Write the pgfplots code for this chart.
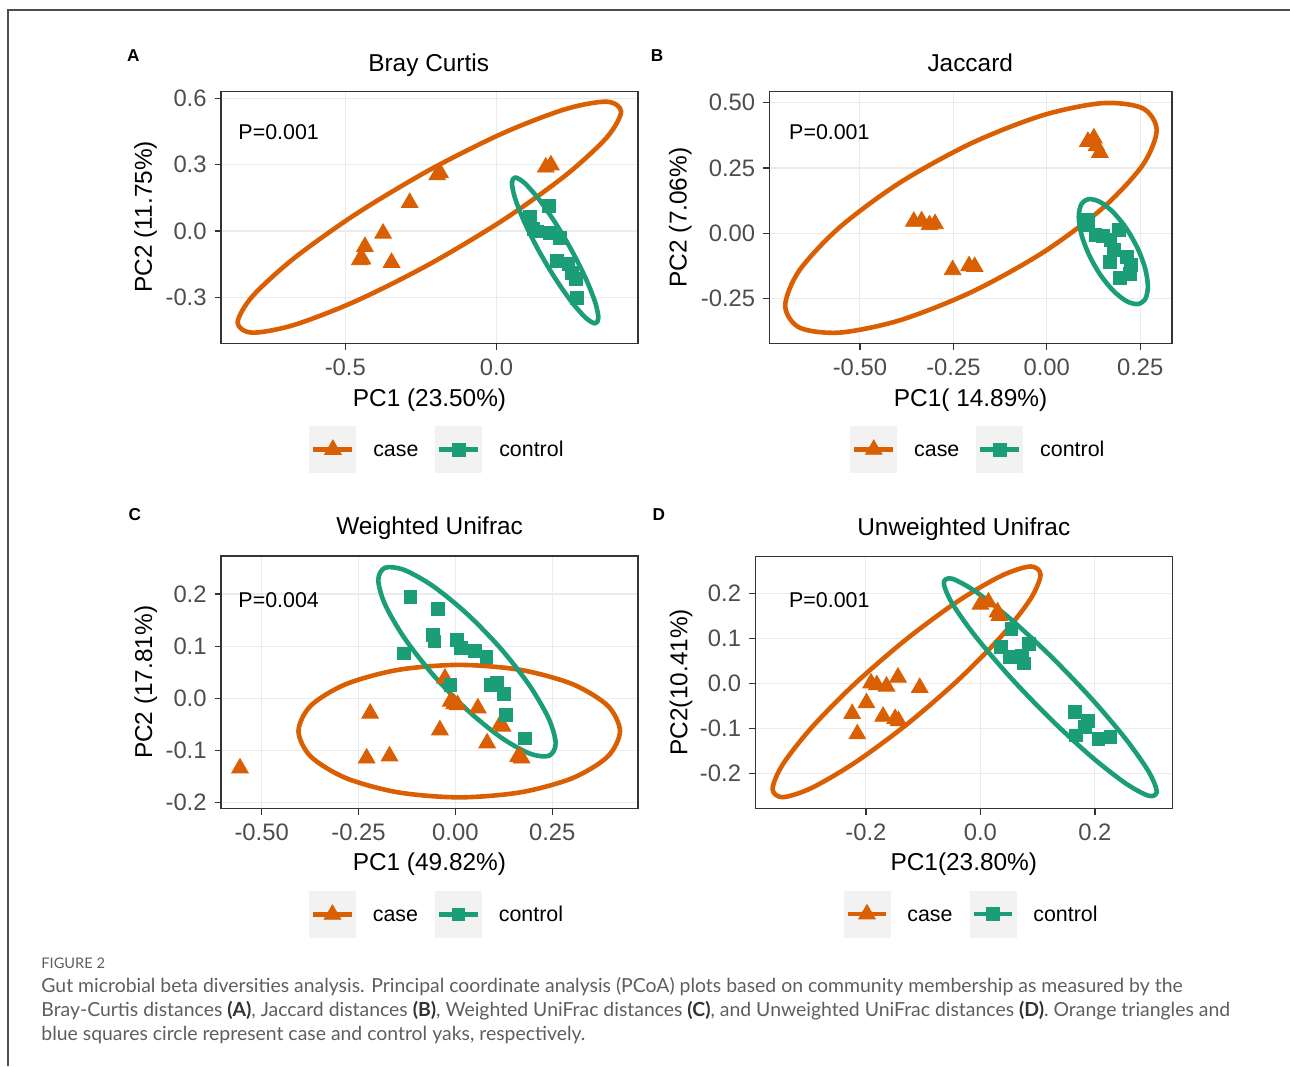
\documentclass[border=0pt]{standalone}
\usepackage{fontspec}
\setmainfont{Liberation Sans}
\newfontfamily\capfont{Lato}
\usepackage{pgfplots}
\pgfplotsset{compat=1.18}

\definecolor{caseC}{HTML}{D95F02}
\definecolor{ctrlC}{HTML}{1B9E77}
\definecolor{frameC}{HTML}{333333}
\definecolor{gridC}{HTML}{EBEBEB}
\definecolor{tickC}{HTML}{4D4D4D}
\definecolor{keybg}{HTML}{F2F2F2}
\definecolor{capC}{HTML}{5E5E5E}
\definecolor{capB}{HTML}{333333}

\pgfplotsset{
  pcoa/.style={
    scale only axis, anchor=south west,
    axis line style={draw=frameC, line width=0.7pt},
    grid=major, grid style={draw=gridC, line width=0.55pt},
    tick style={draw=frameC, line width=0.6pt},
    major tick length=3.2pt, tick align=outside, tick pos=left,
    tick label style={font=\fontsize{11.9}{14}\selectfont, text=tickC, inner sep=0pt},
    xticklabel style={anchor=north, yshift=-4.2pt},
    yticklabel style={anchor=east, xshift=-3.8pt},
    label style={font=\fontsize{12.2}{14}\selectfont, text=black},
    xlabel style={anchor=base}, ylabel style={anchor=base},
    every axis title shift=0pt,
    title style={font=\fontsize{12.2}{14}\selectfont, anchor=base},
    legend columns=2,
    legend style={anchor=center, draw=none, fill=none, inner sep=0pt, outer sep=0pt,
      /tikz/column sep=8.5pt,
      nodes={inner sep=0pt, text height=7.2pt, text depth=0pt,
             font=\fontsize{10.7}{12}\selectfont}},
  },
  casepts/.style={only marks, mark=triangle*, mark size=4.8pt, color=caseC,
    mark options={draw=none, fill=caseC},
    legend image code/.code={
      \fill[keybg] (0pt,-11.5pt) rectangle (23pt,11.5pt);
      \draw[caseC, line width=2.3pt] (1.8pt,0pt) -- (21.2pt,0pt);
      \draw[caseC, mark=triangle*, mark size=4.8pt, mark options={draw=none, fill=caseC}]
        plot coordinates {(11.5pt,0pt)};}},
  ctrlpts/.style={only marks, mark=square*, mark size=3.2pt, color=ctrlC,
    mark options={draw=none, fill=ctrlC},
    legend image code/.code={
      \fill[keybg] (0pt,-11.5pt) rectangle (23pt,11.5pt);
      \draw[ctrlC, line width=2.3pt] (1.8pt,0pt) -- (21.2pt,0pt);
      \draw[ctrlC, mark=square*, mark size=3.2pt, mark options={draw=none, fill=ctrlC}]
        plot coordinates {(11.5pt,0pt)};}},
  caseell/.style={caseC, line width=2.3pt, smooth cycle, mark=none, forget plot, line join=round},
  ctrlell/.style={ctrlC, line width=2.3pt, smooth cycle, mark=none, forget plot, line join=round},
}

\begin{document}
\begin{tikzpicture}
\useasboundingbox (0pt,0pt) rectangle (645pt,533pt);
\draw[draw=tickC, line width=0.9pt] (4pt,0pt) -- (4pt,528pt) -- (645pt,528pt);

% A
\begin{axis}[pcoa,
  at={(110.5pt,361.35pt)}, width=208.5pt, height=125.8pt,
  xmin=-0.911, xmax=0.468, ymin=-0.508, ymax=0.630,
  xtick={-0.5,0}, xticklabels={-0.5,0.0},
  ytick={-0.3,0,0.3,0.6}, yticklabels={-0.3,0.0,0.3,0.6},
  title={Bray Curtis}, title style={at={(axis description cs:0.498,1.0809)}},
  xlabel={PC1 (23.50\%)}, xlabel style={at={(axis description cs:0.5,-0.2498)}},
  ylabel={PC2 (11.75\%)}, ylabel style={at={(axis description cs:-0.1655,0.503)}},
  legend style={at={(0.5168,-0.4223)}},
]
\addplot[casepts] coordinates {(0.163,0.288) (0.180,0.298) (-0.196,0.253) (-0.187,0.264)
  (-0.287,0.128) (-0.375,-0.011) (-0.435,-0.071) (-0.452,-0.131) (-0.443,-0.128) (-0.347,-0.143)};
\addplot[ctrlpts] coordinates {(0.111,0.065) (0.172,0.112) (0.122,0.010) (0.135,-0.002)
  (0.177,-0.008) (0.210,-0.033) (0.199,-0.135) (0.238,-0.150) (0.250,-0.190) (0.262,-0.215) (0.265,-0.304)};
\addplot[caseell] coordinates {(0.412,0.5395) (0.3638,0.5848) (0.2262,0.5503) (0.0208,0.442)
  (-0.222,0.2755) (-0.4648,0.0766) (-0.6702,-0.1241) (-0.8078,-0.2966) (-0.856,-0.4145)
  (-0.8078,-0.4598) (-0.6702,-0.4253) (-0.4648,-0.317) (-0.222,-0.1505) (0.0208,0.0484)
  (0.2262,0.2491) (0.3638,0.4216)};
\addplot[ctrlell] coordinates {(0.337,-0.393) (0.3261,-0.3215) (0.2951,-0.2145) (0.2488,-0.0884)
  (0.194,0.038) (0.1392,0.1452) (0.0929,0.2167) (0.0619,0.2421) (0.051,0.217) (0.0619,0.1455)
  (0.0929,0.0385) (0.1392,-0.0876) (0.194,-0.214) (0.2488,-0.3212) (0.2951,-0.3927) (0.3261,-0.4181)};
\node[anchor=base west, inner sep=0pt, font=\fontsize{10.7}{12}\selectfont] at (rel axis cs:0.041,0.8115) {P=0.001};
\legend{case,control}
\end{axis}

% B
\begin{axis}[pcoa,
  at={(384.75pt,361.35pt)}, width=201.25pt, height=125.8pt,
  xmin=-0.742, xmax=0.335, ymin=-0.421, ymax=0.542,
  xtick={-0.5,-0.25,0,0.25}, xticklabels={-0.50,-0.25,0.00,0.25},
  ytick={-0.25,0,0.25,0.5}, yticklabels={-0.25,0.00,0.25,0.50},
  title={Jaccard}, title style={at={(axis description cs:0.4987,1.0809)}},
  xlabel={PC1( 14.89\%)}, xlabel style={at={(axis description cs:0.4996,-0.2498)}},
  ylabel={PC2 (7.06\%)}, ylabel style={at={(axis description cs:-0.2062,0.500)}},
  legend style={at={(0.5165,-0.4223)}},
]
\addplot[casepts] coordinates {(0.110,0.351) (0.126,0.364) (0.133,0.334) (0.142,0.309)
  (-0.356,0.045) (-0.335,0.047) (-0.314,0.032) (-0.299,0.036) (-0.252,-0.140) (-0.208,-0.125) (-0.193,-0.128)};
\addplot[ctrlpts] coordinates {(0.111,0.050) (0.111,0.030) (0.130,-0.005) (0.150,-0.010)
  (0.192,0.012) (0.170,-0.026) (0.179,-0.064) (0.168,-0.110) (0.214,-0.090) (0.226,-0.120)
  (0.222,-0.155) (0.195,-0.172)};
\addplot[caseell] coordinates {(0.294,0.395) (0.2562,0.4787) (0.1484,0.4981) (-0.0126,0.451)
  (-0.203,0.344) (-0.3934,0.1936) (-0.5544,0.0229) (-0.6622,-0.1423) (-0.700,-0.277)
  (-0.6622,-0.3607) (-0.5544,-0.3801) (-0.3934,-0.333) (-0.203,-0.226) (-0.0126,-0.0756)
  (0.1484,0.0951) (0.2562,0.2603)};
\addplot[ctrlell] coordinates {(0.2705,-0.204) (0.2635,-0.1363) (0.2434,-0.0586) (0.2134,0.0173)
  (0.178,0.080) (0.1426,0.1199) (0.1126,0.1308) (0.0925,0.1113) (0.0855,0.064) (0.0925,-0.0037)
  (0.1126,-0.0814) (0.1426,-0.1573) (0.178,-0.220) (0.2134,-0.2599) (0.2434,-0.2708) (0.2635,-0.2513)};
\node[anchor=base west, inner sep=0pt, font=\fontsize{10.7}{12}\selectfont] at (rel axis cs:0.048,0.8115) {P=0.001};
\legend{case,control}
\end{axis}

% C
\begin{axis}[pcoa,
  at={(110.5pt,128.85pt)}, width=208.4pt, height=126.2pt,
  xmin=-0.605, xmax=0.471, ymin=-0.211, ymax=0.273,
  xtick={-0.5,-0.25,0,0.25}, xticklabels={-0.50,-0.25,0.00,0.25},
  ytick={-0.2,-0.1,0,0.1,0.2}, yticklabels={-0.2,-0.1,0.0,0.1,0.2},
  title={Weighted Unifrac}, title style={at={(axis description cs:0.5005,1.0833)}},
  xlabel={PC1 (49.82\%)}, xlabel style={at={(axis description cs:0.5,-0.246)}},
  ylabel={PC2 (17.81\%)}, ylabel style={at={(axis description cs:-0.1655,0.499)}},
  legend style={at={(0.516,-0.4206)}},
]
\addplot[casepts] coordinates {(-0.556,-0.134) (-0.220,-0.029) (-0.229,-0.115) (-0.170,-0.111)
  (-0.040,-0.061) (-0.027,0.038) (-0.012,-0.006) (-0.003,-0.011) (0.006,-0.013) (0.058,-0.019)
  (0.082,-0.086) (0.117,-0.049) (0.122,-0.054) (0.162,-0.112) (0.171,-0.115)};
\addplot[ctrlpts] coordinates {(-0.116,0.194) (-0.045,0.171) (-0.059,0.121) (-0.054,0.109)
  (-0.132,0.086) (0.004,0.112) (0.015,0.096) (0.051,0.091) (0.080,0.080) (-0.013,0.026)
  (0.091,0.026) (0.108,0.030) (0.126,0.008) (0.131,-0.032) (0.180,-0.077)};
\addplot[caseell] coordinates {(0.425,-0.063) (0.3935,-0.0144) (0.3034,0.0268) (0.1689,0.0543)
  (0.010,0.064) (-0.1489,0.0543) (-0.2834,0.0268) (-0.3735,-0.0144) (-0.405,-0.063)
  (-0.3735,-0.1116) (-0.2834,-0.1528) (-0.1489,-0.1803) (0.010,-0.190) (0.1689,-0.1803)
  (0.3034,-0.1528) (0.3935,-0.1116)};
\addplot[ctrlell] coordinates {(0.259,-0.087) (0.2416,-0.0399) (0.1919,0.024) (0.1177,0.0949)
  (0.030,0.162) (-0.0577,0.2151) (-0.1319,0.246) (-0.1816,0.2503) (-0.199,0.227) (-0.1816,0.1799)
  (-0.1319,0.116) (-0.0577,0.0451) (0.030,-0.022) (0.1177,-0.0751) (0.1919,-0.106) (0.2416,-0.1103)};
\node[anchor=base west, inner sep=0pt, font=\fontsize{10.7}{12}\selectfont] at (rel axis cs:0.041,0.7964) {P=0.004};
\legend{case,control}
\end{axis}

% D
\begin{axis}[pcoa,
  at={(377.7pt,128.85pt)}, width=208.4pt, height=125.8pt,
  xmin=-0.393, xmax=0.335, ymin=-0.278, ymax=0.281,
  xtick={-0.2,0,0.2}, xticklabels={-0.2,0.0,0.2},
  ytick={-0.2,-0.1,0,0.1,0.2}, yticklabels={-0.2,-0.1,0.0,0.1,0.2},
  title={Unweighted Unifrac}, title style={at={(axis description cs:0.500,1.0833)}},
  xlabel={PC1(23.80\%)}, xlabel style={at={(axis description cs:0.500,-0.246)}},
  ylabel={PC2(10.41\%)}, ylabel style={at={(axis description cs:-0.163,0.501)}},
  legend style={at={(0.5163,-0.4206)}},
]
\addplot[casepts] coordinates {(0.000,0.175) (0.014,0.180) (0.030,0.158) (0.033,0.150)
  (-0.191,0.000) (-0.181,-0.004) (-0.164,-0.007) (-0.144,0.013) (-0.106,-0.010) (-0.199,-0.044)
  (-0.224,-0.068) (-0.215,-0.113) (-0.170,-0.074) (-0.149,-0.079) (-0.143,-0.084)};
\addplot[ctrlpts] coordinates {(0.054,0.121) (0.036,0.080) (0.052,0.058) (0.073,0.061)
  (0.085,0.087) (0.076,0.044) (0.165,-0.064) (0.188,-0.083) (0.182,-0.098) (0.167,-0.116)
  (0.206,-0.124) (0.227,-0.120)};
\addplot[caseell] coordinates {(0.105,0.241) (0.0872,0.2593) (0.0364,0.2385) (-0.0394,0.182)
  (-0.129,0.098) (-0.2186,-0.0004) (-0.2944,-0.0981) (-0.3452,-0.1805) (-0.363,-0.235)
  (-0.3452,-0.2533) (-0.2944,-0.2325) (-0.2186,-0.176) (-0.129,-0.092) (-0.0394,0.0064)
  (0.0364,0.1041) (0.0872,0.1865)};
\addplot[ctrlell] coordinates {(0.308,-0.241) (0.2939,-0.1966) (0.2535,-0.1235) (0.1932,-0.0332)
  (0.122,0.061) (0.0508,0.1446) (-0.0095,0.2045) (-0.0499,0.2322) (-0.064,0.223) (-0.0499,0.1786)
  (-0.0095,0.1055) (0.0508,0.0152) (0.122,-0.079) (0.1932,-0.1626) (0.2535,-0.2225) (0.2939,-0.2502)};
\node[anchor=base west, inner sep=0pt, font=\fontsize{10.7}{12}\selectfont] at (rel axis cs:0.080,0.7964) {P=0.001};
\legend{case,control}
\end{axis}

% panel letters
\node[inner sep=0pt, font=\bfseries\fontsize{8.6}{10}\selectfont] at (66.7pt,505pt) {A};
\node[inner sep=0pt, font=\bfseries\fontsize{8.6}{10}\selectfont] at (328.6pt,505pt) {B};
\node[inner sep=0pt, font=\bfseries\fontsize{8.6}{10}\selectfont] at (67.4pt,275.5pt) {C};
\node[inner sep=0pt, font=\bfseries\fontsize{8.6}{10}\selectfont] at (329.45pt,275.5pt) {D};

% caption
\node[anchor=base west, inner sep=0pt, text=capC, font=\capfont\fontsize{7.3}{8}\selectfont] at (20.5pt,49pt) {FIGURE 2};
\node[anchor=base west, inner sep=0pt, text=capC, font=\capfont\fontsize{9.7}{11}\selectfont] at (20.5pt,37pt)
  {Gut microbial beta diversities analysis. Principal coordinate analysis (PCoA) plots based on community membership as measured by the};
\node[anchor=base west, inner sep=0pt, text=capC, font=\capfont\fontsize{9.7}{11}\selectfont] at (20.5pt,25pt)
  {Bray-Curtis distances \textcolor{capB}{\bfseries(A)}, Jaccard distances \textcolor{capB}{\bfseries(B)}, Weighted UniFrac distances \textcolor{capB}{\bfseries(C)}, and Unweighted UniFrac distances \textcolor{capB}{\bfseries(D)}. Orange triangles and};
\node[anchor=base west, inner sep=0pt, text=capC, font=\capfont\fontsize{9.7}{11}\selectfont] at (20.5pt,13pt)
  {blue squares circle represent case and control yaks, respectively.};
\end{tikzpicture}
\end{document}
